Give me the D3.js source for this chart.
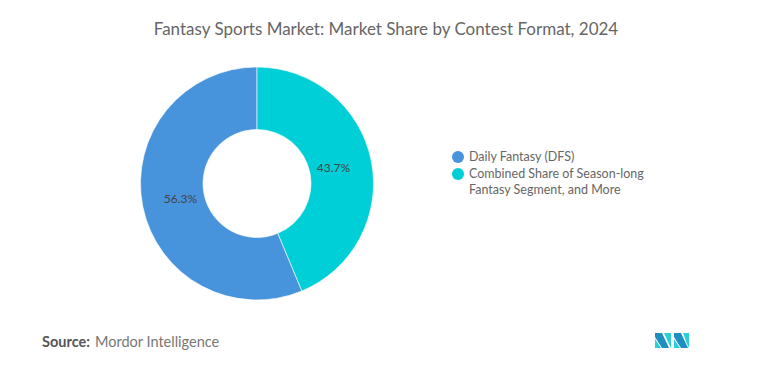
<!DOCTYPE html>
<html><head><meta charset="utf-8">
<script src="https://cdn.jsdelivr.net/npm/d3@7"></script>
<style>body{margin:0;background:#fff}svg{display:block}</style>
</head><body>
<svg id="c" width="782" height="373"></svg>
<script>
const categories = ["Daily Fantasy (DFS)", "Combined Share of Season-long Fantasy Segment, and More"];
const legendLines = [["Daily Fantasy (DFS)"], ["Combined Share of Season-long", "Fantasy Segment, and More"]];
const values = [56.3, 43.7];
const labels = ["56.3%", "43.7%"];
const colors = ["#4793DC", "#00CFD8"];
const title = "Fantasy Sports Market: Market Share by Contest Format, 2024";
const source = "Mordor Intelligence";

const svg = d3.select("#c");
const font = "Lato, 'Open Sans', sans-serif";

svg.append("text").attr("x", 386).attr("y", 35).attr("text-anchor", "middle")
  .attr("font-family", font).attr("font-size", 17).attr("fill", "#666").text(title);

const cx = 257, cy = 183.5, R = 116.5, r = 54;
const total = d3.sum(values);
const first = values[0] / total * 2 * Math.PI;
const pie = d3.pie().sort(null).startAngle(-first).endAngle(2 * Math.PI - first);
const arcs = pie(values);
const arc = d3.arc().innerRadius(r).outerRadius(R);
const labelArc = d3.arc().innerRadius(78).outerRadius(78);
const g = svg.append("g").attr("transform", `translate(${cx},${cy})`);
g.selectAll("path").data(arcs).join("path").attr("d", arc).attr("fill", (d, i) => colors[i])
  .attr("stroke", "#fff").attr("stroke-width", 0.6);
g.selectAll("text").data(arcs).join("text")
  .attr("transform", d => `translate(${labelArc.centroid(d)})`)
  .attr("text-anchor", "middle").attr("dy", "0.35em")
  .attr("font-family", font).attr("font-size", 12).attr("fill", "#444")
  .text((d, i) => labels[i]);

const leg = svg.append("g");
let y = 157;
categories.forEach((c, i) => {
  leg.append("circle").attr("cx", 458).attr("cy", y).attr("r", 6).attr("fill", colors[i]);
  legendLines[i].forEach((line, j) => {
    leg.append("text").attr("x", 469).attr("y", y + j * 16).attr("dy", "0.35em")
      .attr("font-family", font).attr("font-size", 12.5).attr("fill", "#666").text(line);
  });
  y += 16 * legendLines[i].length + 1;
});

const st = svg.append("text").attr("x", 42).attr("y", 347).attr("font-family", font).attr("font-size", 14.5);
st.append("tspan").attr("fill", "#555").attr("font-weight", "bold").text("Source:");
st.append("tspan").attr("fill", "#777").attr("dx", 5).text(source);

const logo = svg.append("g").attr("transform", "translate(655,333)");
logo.append("polygon").attr("points", "0,0 7,0 14,15 7,15 0,4").attr("fill", "#1E8FC0");
logo.append("polygon").attr("points", "0,6 6,15 0,15").attr("fill", "#2ECFD4");
logo.append("polygon").attr("points", "9,0 16,0 16,15 14,11").attr("fill", "#2ECFD4");
logo.append("polygon").attr("points", "19,0 26,0 33,15 26,15 19,4").attr("fill", "#1E8FC0");
logo.append("polygon").attr("points", "19,6 25,15 19,15").attr("fill", "#2ECFD4");
logo.append("polygon").attr("points", "28,0 34,0 34,15 32,11").attr("fill", "#2ECFD4");
</script>
</body></html>
